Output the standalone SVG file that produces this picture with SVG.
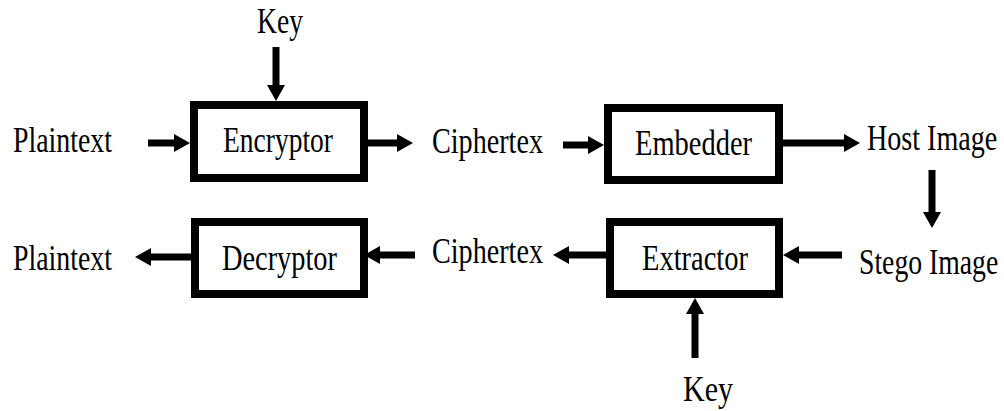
<svg xmlns="http://www.w3.org/2000/svg" width="1004" height="411" viewBox="0 0 1004 411">
  <style>
    .box { fill: #fff; stroke: #000; stroke-width: 8; }
    .lbl { font-family: "Liberation Serif", "Times New Roman", serif; font-size: 36px; fill: #000; }
    .wire { stroke: #000; stroke-width: 7; fill: none; marker-end: url(#head); }
  </style>
  <defs>
    <marker id="head" markerUnits="userSpaceOnUse" viewBox="0 0 16 18" markerWidth="16" markerHeight="18" refX="1" refY="9" orient="auto">
      <path d="M0,0 L16,9 L0,18 Z" fill="#000"/>
    </marker>
  </defs>
  <rect width="1004" height="411" fill="#fff"/>

  <!-- free-standing labels -->
  <g id="plaintext-in"><text class="lbl" x="13" y="152" textLength="99" lengthAdjust="spacingAndGlyphs">Plaintext</text></g>
  <g id="key-enc"><text class="lbl" x="257" y="33" textLength="46" lengthAdjust="spacingAndGlyphs">Key</text></g>
  <g id="ciphertext-top"><text class="lbl" x="432" y="153" textLength="111" lengthAdjust="spacingAndGlyphs">Ciphertex</text></g>
  <g id="host-image"><text class="lbl" transform="translate(867 150) scale(0.78 1)">Host Image</text></g>
  <g id="stego-image"><text class="lbl" transform="translate(859 274) scale(0.77 1)">Stego Image</text></g>
  <g id="ciphertext-bottom"><text class="lbl" x="432" y="263" textLength="111" lengthAdjust="spacingAndGlyphs">Ciphertex</text></g>
  <g id="plaintext-out"><text class="lbl" x="13" y="270" textLength="99" lengthAdjust="spacingAndGlyphs">Plaintext</text></g>
  <g id="key-ext"><text class="lbl" x="683" y="401" textLength="50" lengthAdjust="spacingAndGlyphs">Key</text></g>

  <!-- processing blocks -->
  <g id="encryptor">
    <rect class="box" x="194" y="105" width="170" height="73"/>
    <text class="lbl" x="223" y="152" textLength="110" lengthAdjust="spacingAndGlyphs">Encryptor</text>
  </g>
  <g id="embedder">
    <rect class="box" x="608" y="108" width="171" height="72"/>
    <text class="lbl" x="635" y="155" textLength="117" lengthAdjust="spacingAndGlyphs">Embedder</text>
  </g>
  <g id="extractor">
    <rect class="box" x="610" y="222" width="169" height="72"/>
    <text class="lbl" x="642" y="270" textLength="106" lengthAdjust="spacingAndGlyphs">Extractor</text>
  </g>
  <g id="decryptor">
    <rect class="box" x="195" y="222" width="169" height="72"/>
    <text class="lbl" x="222" y="270" textLength="115" lengthAdjust="spacingAndGlyphs">Decryptor</text>
  </g>

  <!-- connectors -->
  <g id="connectors">
    <line class="wire" x1="276" y1="47" x2="276" y2="86"/>
    <line class="wire" x1="148" y1="143" x2="175" y2="143"/>
    <line class="wire" x1="368" y1="143" x2="398" y2="143"/>
    <line class="wire" x1="563" y1="145" x2="589" y2="145"/>
    <line class="wire" x1="783" y1="143" x2="845" y2="143"/>
    <line class="wire" x1="932" y1="170" x2="932" y2="213"/>
    <line class="wire" x1="842" y1="255" x2="798" y2="255"/>
    <line class="wire" x1="606" y1="255" x2="568" y2="255"/>
    <line class="wire" x1="415" y1="255" x2="379" y2="255"/>
    <line class="wire" x1="191" y1="257" x2="150" y2="257"/>
    <line class="wire" x1="695" y1="358" x2="695" y2="313"/>
  </g>
</svg>
